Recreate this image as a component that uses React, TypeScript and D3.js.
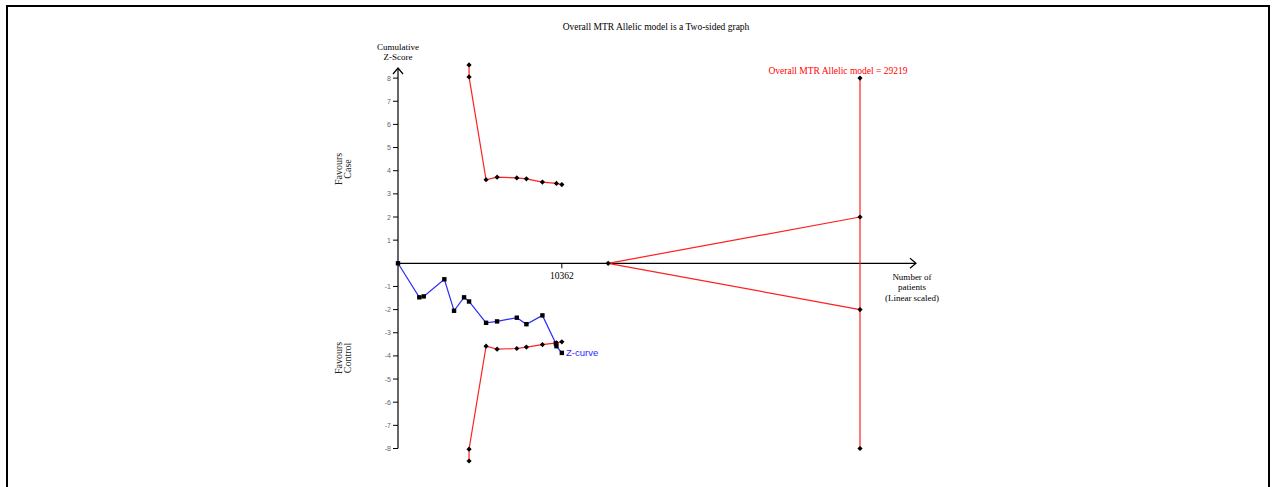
import React from "react";
import * as d3 from "d3";

const zCurveN = [0, 1348, 1627, 2931, 3545, 4178, 4494, 5570, 6267, 7514, 8121, 9134, 9982, 10020, 10362];
const zCurveZ = [0, -1.47, -1.43, -0.69, -2.05, -1.47, -1.65, -2.57, -2.51, -2.35, -2.63, -2.25, -3.46, -3.58, -3.87];

const boundN = [4494, 4494, 5570, 6267, 7514, 8121, 9134, 10020, 10362];
const upperZ = [8.57, 8.05, 3.61, 3.72, 3.69, 3.65, 3.51, 3.45, 3.40];
const lowerZ = [-8.54, -8.03, -3.58, -3.71, -3.68, -3.62, -3.51, -3.44, -3.39];

const coneStartN = 13290;
const requiredN = 29219;
const coneZ = [2, -2];
const requiredDots = [8, 2, -2, -8];

const yTicks = [-8, -7, -6, -5, -4, -3, -2, -1, 1, 2, 3, 4, 5, 6, 7, 8];
const xTickValues = [10362];

const title = "Overall MTR Allelic model is a Two-sided graph";
const risLabel = "Overall MTR Allelic model = 29219";

const W = 1272;
const H = 487;

export default function App() {
  const x = d3.scaleLinear().domain([0, requiredN]).range([398, 860]);
  const y = d3.scaleLinear().domain([-8, 8]).range([448.5, 78.1]);
  const line = d3.line<[number, number]>().x((d) => x(d[0])).y((d) => y(d[1]));

  const zPts: [number, number][] = zCurveN.map((n, i) => [n, zCurveZ[i]]);
  const upPts: [number, number][] = boundN.map((n, i) => [n, upperZ[i]]);
  const loPts: [number, number][] = boundN.map((n, i) => [n, lowerZ[i]]);

  const diamond = (cx: number, cy: number, k: string) => (
    <path key={k} d={`M${cx},${cy - 2.6}L${cx + 2.6},${cy}L${cx},${cy + 2.6}L${cx - 2.6},${cy}Z`} fill="#000" />
  );
  const square = (cx: number, cy: number, k: string) => (
    <rect key={k} x={cx - 2.2} y={cy - 2.2} width={4.4} height={4.4} fill="#000" />
  );

  const x0 = x(0);
  const y0 = y(0);
  const xEnd = 916;
  const yTop = 68;

  return (
    <svg width={W} height={H} style={{ position: "absolute", left: 0, top: 0, background: "#fff" }} fontFamily="'Liberation Serif', 'Times New Roman', serif">
      <rect x={7} y={6} width={1262} height={500} fill="none" stroke="#000" strokeWidth={2} />
      <text x={656} y={30} fontSize={9.5} textAnchor="middle" fill="#000">{title}</text>

      {/* axes */}
      <line x1={x0} y1={y(-8)} x2={x0} y2={yTop} stroke="#000" strokeWidth={1.2} />
      <path d={`M${x0 - 5},${yTop + 6}L${x0},${yTop}L${x0 + 5},${yTop + 6}`} fill="none" stroke="#000" strokeWidth={1.2} />
      <line x1={x0} y1={y0} x2={xEnd} y2={y0} stroke="#000" strokeWidth={1.2} />
      <path d={`M${xEnd - 6},${y0 - 5}L${xEnd},${y0}L${xEnd - 6},${y0 + 5}`} fill="none" stroke="#000" strokeWidth={1.2} />

      {yTicks.map((t) => (
        <g key={t}>
          <line x1={x0 - 5} x2={x0} y1={y(t)} y2={y(t)} stroke="#000" strokeWidth={1} />
          <text x={x0 - 7} y={y(t) + 2.5} fontSize={7} textAnchor="end" fill="#666" fontFamily="'Liberation Sans', Arial, sans-serif">{t}</text>
        </g>
      ))}
      {xTickValues.map((t) => (
        <g key={t}>
          <line x1={x(t)} x2={x(t)} y1={y0} y2={y0 + 5} stroke="#000" strokeWidth={1} />
          <text x={x(t)} y={y0 + 16} fontSize={9.5} textAnchor="middle" fill="#000">{t}</text>
        </g>
      ))}

      <text x={398} y={50} fontSize={9} textAnchor="middle">Cumulative</text>
      <text x={398} y={60} fontSize={9} textAnchor="middle">Z-Score</text>
      <text transform={`translate(342,169) rotate(-90)`} fontSize={10} textAnchor="middle" fill="#222">Favours</text>
      <text transform={`translate(351,169) rotate(-90)`} fontSize={10} textAnchor="middle" fill="#222">Case</text>
      <text transform={`translate(342,358) rotate(-90)`} fontSize={10} textAnchor="middle" fill="#222">Favours</text>
      <text transform={`translate(351,358) rotate(-90)`} fontSize={10} textAnchor="middle" fill="#222">Control</text>

      <text x={912} y={280} fontSize={9} textAnchor="middle">Number of</text>
      <text x={912} y={290} fontSize={9} textAnchor="middle">patients</text>
      <text x={912} y={301} fontSize={9} textAnchor="middle">(Linear scaled)</text>

      {/* required information size */}
      <line x1={x(requiredN)} x2={x(requiredN)} y1={y(8)} y2={y(-8)} stroke="#ff2020" strokeWidth={1.2} />
      {coneZ.map((z, i) => (
        <line key={i} x1={x(coneStartN)} y1={y0} x2={x(requiredN)} y2={y(z)} stroke="#ff2020" strokeWidth={1.2} />
      ))}
      {requiredDots.map((z, i) => diamond(x(requiredN), y(z), "r" + i))}
      {diamond(x(coneStartN), y0, "cs")}
      <text x={838} y={74} fontSize={9.5} textAnchor="middle" fill="#ff0000">{risLabel}</text>

      {/* boundaries */}
      <path d={line(upPts) || ""} fill="none" stroke="#ff2020" strokeWidth={1.2} />
      <path d={line(loPts) || ""} fill="none" stroke="#ff2020" strokeWidth={1.2} />
      {upPts.map((p, i) => diamond(x(p[0]), y(p[1]), "u" + i))}
      {loPts.map((p, i) => diamond(x(p[0]), y(p[1]), "l" + i))}

      {/* z-curve */}
      <path d={line(zPts) || ""} fill="none" stroke="#2a2aff" strokeWidth={1.2} />
      {zPts.map((p, i) => square(x(p[0]), y(p[1]), "z" + i))}
      <text x={566} y={356} fontSize={9.5} fill="#2a2aff" fontFamily="'Liberation Sans', Arial, sans-serif">Z-curve</text>
    </svg>
  );
}
